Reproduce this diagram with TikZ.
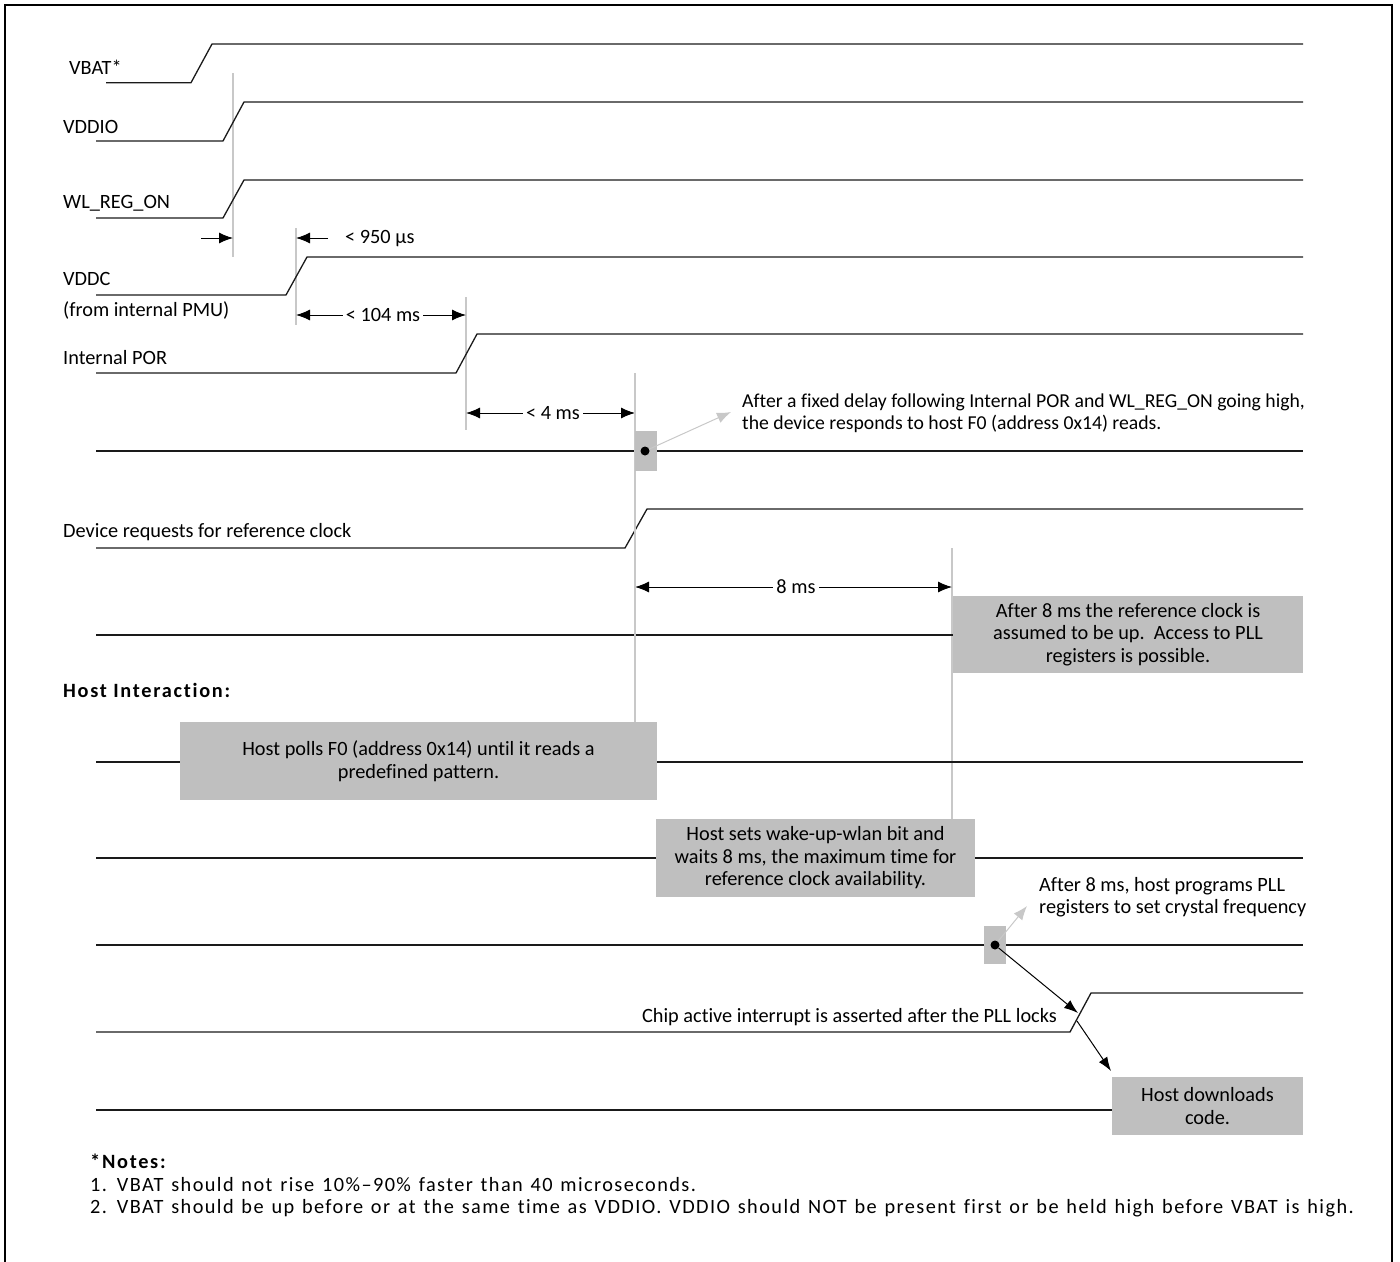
\documentclass[tikz,border=0pt]{standalone}
\usepackage{fontspec}
\setmainfont{Carlito}[Ligatures=NoCommon]
\newfontfamily\spfont{Carlito}[LetterSpace=7,WordSpace=1.3,Ligatures=NoCommon]
\newfontfamily\hdfont{Carlito}[LetterSpace=8.5,Ligatures=NoCommon]
\usetikzlibrary{arrows.meta}
\definecolor{boxgray}{HTML}{BFBFBF}
\definecolor{guidegray}{HTML}{C8C8C8}
\definecolor{sigcol}{HTML}{1A1A1A}
\begin{document}
\begin{tikzpicture}[x=1pt,y=-1pt,
  sig/.style={line width=1.3pt, draw=sigcol, line join=miter},
  guide/.style={line width=1.5pt, draw=guidegray},
  frame/.style={line width=2.5pt, draw=black},
  dimarrow/.style={line width=1pt, draw=black, {Latex[length=14pt,width=11pt]}-{Latex[length=14pt,width=11pt]}},
  onearrow/.style={line width=1pt, draw=black, -{Latex[length=14pt,width=11pt]}},
  garrow/.style={line width=1pt, draw=guidegray, -{Latex[length=14pt,width=11pt]}},
  barrow/.style={line width=1pt, draw=black, -{Latex[length=14pt,width=10pt]}},
  txt/.style={font=\fontsize{20.3}{22.5}\selectfont, inner sep=0pt, text=black},
  ctxt/.style={font=\fontsize{19.7}{21.5}\selectfont, inner sep=0pt, text=black},
  sptxt/.style={font=\spfont\fontsize{20.3}{23}\selectfont, inner sep=0pt, text=black, anchor=west},
  hdtxt/.style={font=\hdfont\fontsize{20.3}{23}\selectfont\bfseries, inner sep=0pt, text=black, anchor=west},
  lbl/.style={txt, anchor=west},
  gbox/.style={txt, fill=boxgray, draw=none, align=center},
  markbox/.style={fill=boxgray, draw=none, inner sep=0pt, minimum width=22pt},
  dotnode/.style={circle, fill=black, inner sep=0pt, minimum size=9pt},
  dimtxt/.style={txt, fill=white, inner xsep=3pt, inner ysep=1pt}
]
\useasboundingbox (0,0) rectangle (1400,1261);

% frame (open at the bottom)
\draw[frame] (5,1262) -- (5,5) -- (1392,5) -- (1392,1262);

% ---- signal labels
\node[lbl] (lvbat) at (69,67) {VBAT*};
\node[lbl] (lvddio) at (63,127) {VDDIO};
\node[lbl] (lwl) at (63,203) {WL\_REG\_ON};
\node[lbl] (lvddc) at (63,279) {VDDC};
\node[lbl] (lpmu) at (63,310) {(from internal PMU)};
\node[lbl] (lpor) at (63,358) {Internal POR};
\node[lbl] (lreq) at (63,532) {Device requests for reference clock};
\node[hdtxt] (lhost) at (63,690) {Host Interaction:};

% ---- guide lines
\draw[guide] (233,73) -- (233,257);
\draw[guide] (296,228) -- (296,325);
\draw[guide] (466,297) -- (466,430);
\draw[guide] (952,548) -- (952,819);

% ---- waveforms
\draw[sig] (106,82.7) -- (191,82.7) -- (212,44) -- (1303,44);
\draw[sig] (96,141) -- (223,141) -- (244,102) -- (1303,102);
\draw[sig] (96,218) -- (223,218) -- (244,180) -- (1303,180);
\draw[sig] (96,295) -- (286,295) -- (307,257) -- (1303,257);
\draw[sig] (96,373) -- (456,373) -- (477,334) -- (1303,334);
\draw[sig] (96,451) -- (1303,451);
\draw[sig] (96,548) -- (625,548) -- (647,509) -- (1303,509);
\draw[sig] (96,635) -- (953,635);
\draw[sig] (96,762) -- (1303,762);
\draw[sig] (96,858) -- (1303,858);
\draw[sig] (96,945) -- (1303,945);
\draw[sig] (96,1032) -- (1070,1032) -- (1091,993) -- (1303,993);
\draw[sig] (96,1110) -- (1112,1110);

% ---- timing arrows
\coordinate (a950l) at (201,238);
\coordinate (a950lt) at (233,238);
\coordinate (a950r) at (328,238);
\coordinate (a950rt) at (296,238);
\draw[onearrow] (a950l) -- (a950lt);
\draw[onearrow] (a950r) -- (a950rt);
\node[lbl] (t950) at (345,239) {< 950 µs};

\coordinate (d104a) at (296,315);
\coordinate (d104b) at (466,315);
\draw[dimarrow] (d104a) -- (d104b);
\node[dimtxt] (t104) at (383,315) {< 104 ms};

\coordinate (d4a) at (466,413);
\coordinate (d4b) at (635,413);
\draw[dimarrow] (d4a) -- (d4b);
\node[dimtxt] (t4) at (553,413) {< 4 ms};

\coordinate (d8a) at (635,587);
\coordinate (d8b) at (952,587);
\draw[dimarrow] (d8a) -- (d8b);
\node[dimtxt] (t8) at (796,587) {8 ms};

% ---- gray boxes
\node[gbox, minimum width=477pt, minimum height=78pt] (poll) at (418.5,761)
  {Host polls F0 (address 0x14) until it reads a\\predefined pattern.};
\draw[guide] (635,373) -- (635,722);
\node[gbox, minimum width=350pt, minimum height=77pt] (ref8) at (1128,634.5)
  {After 8 ms the reference clock is\\assumed to be up.\ \ Access to PLL\\registers is possible.};
\node[gbox, minimum width=319pt, minimum height=78pt] (wake) at (815.5,858)
  {Host sets wake-up-wlan bit and\\waits 8 ms, the maximum time for\\reference clock availability.};
\node[gbox, minimum width=191pt, minimum height=58pt] (dl) at (1207.5,1106)
  {Host downloads\\code.};

% ---- markers and callouts
\node[markbox, minimum height=40pt] (mk1) at (646,451) {};
\node[dotnode] (dot1) at (645,451) {};
\coordinate (g1) at (731,412);
\draw[garrow] (dot1) -- (g1);
\node[ctxt, anchor=west, align=left] (c1txt) at (742,413)
  {After a fixed delay following Internal POR and WL\_REG\_ON going high,\\the device responds to host F0 (address 0x14) reads.};

\node[markbox, minimum height=38pt] (mk2) at (995,945) {};
\node[dotnode] (dot2) at (995,945) {};
\coordinate (g2) at (1027,906);
\draw[garrow] (dot2) -- (g2);
\node[txt, anchor=west, align=left] (c2txt) at (1039,897)
  {After 8 ms, host programs PLL\\registers to set crystal frequency};

\coordinate (ramp) at (1078,1013);
\draw[barrow] (dot2) -- (ramp);
\coordinate (ramp2) at (1077,1021);
\coordinate (dlin) at (1111,1071);
\draw[barrow] (ramp2) -- (dlin);
\node[txt, anchor=east] (chip) at (1057,1017) {Chip active interrupt is asserted after the PLL locks};

% ---- notes
\node[hdtxt] (notes) at (90,1161) {*Notes:};
\node[sptxt] (n1) at (90,1185) {1. VBAT should not rise 10\%–90\% faster than 40 microseconds.};
\node[sptxt] (n2) at (90,1208) {2. VBAT should be up before or at the same time as VDDIO. VDDIO should NOT be present first or be held high before VBAT is high.};
\end{tikzpicture}
\end{document}
